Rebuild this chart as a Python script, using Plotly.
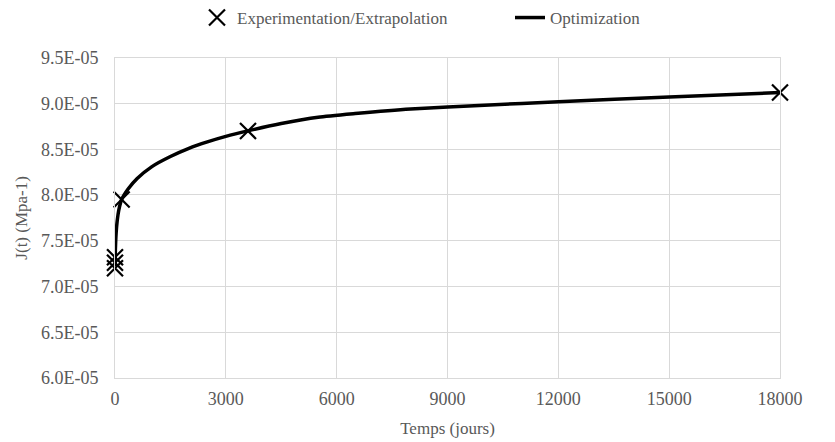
import plotly.graph_objects as go

# Experimental / extrapolated points
exp_t = [0, 0, 0, 180, 3600, 18000]
exp_j = [7.20e-05, 7.26e-05, 7.32e-05, 7.95e-05, 8.70e-05, 9.12e-05]

# Optimization curve
opt_t = [0, 10, 30, 60, 100, 180, 365, 600, 1000, 1500, 2000, 2500, 3000, 3600,
         4500, 5500, 6500, 8000, 10000, 12000, 15000, 18000]
opt_j = [7.22e-05, 7.40e-05, 7.58e-05, 7.72e-05, 7.83e-05, 7.95e-05, 8.07e-05, 8.18e-05,
         8.31e-05, 8.42e-05, 8.51e-05, 8.58e-05, 8.64e-05, 8.70e-05, 8.78e-05, 8.85e-05,
         8.89e-05, 8.94e-05, 8.98e-05, 9.02e-05, 9.07e-05, 9.12e-05]

x_ticks = [0, 3000, 6000, 9000, 12000, 15000, 18000]
y_ticks = [6.0e-05, 6.5e-05, 7.0e-05, 7.5e-05, 8.0e-05, 8.5e-05, 9.0e-05, 9.5e-05]
y_labels = ["6.0E-05", "6.5E-05", "7.0E-05", "7.5E-05", "8.0E-05", "8.5E-05", "9.0E-05", "9.5E-05"]

font_family = "Liberation Serif"
grey = "#595959"
fs = 18

fig = go.Figure()
fig.add_trace(go.Scatter(
    x=exp_t, y=exp_j, mode="markers", name="Experimentation/Extrapolation",
    marker=dict(symbol="x-thin", size=16, color="black", line=dict(width=2.2, color="black")),
    cliponaxis=False, legend="legend",
))
fig.add_trace(go.Scatter(
    x=opt_t, y=opt_j, mode="lines", name="Optimization",
    line=dict(color="black", width=3.5, shape="spline", smoothing=0.6),
    cliponaxis=False, legend="legend2",
))

leg_common = dict(orientation="h", yanchor="middle", y=1 - 18 / 442, yref="container",
                  xref="container", xanchor="left", font=dict(size=17, color=grey),
                  itemwidth=30, bgcolor="rgba(0,0,0,0)")

fig.update_layout(
    width=835, height=442,
    margin=dict(l=115, r=55, t=56, b=64),
    paper_bgcolor="white", plot_bgcolor="white",
    font=dict(family=font_family, size=fs, color=grey),
    legend=dict(x=197 / 835, **leg_common),
    legend2=dict(x=510 / 835, **leg_common),
    showlegend=True,
)
fig.update_xaxes(
    range=[0, 18000], tickvals=x_ticks, ticktext=[str(v) for v in x_ticks],
    showgrid=True, gridcolor="#d9d9d9", gridwidth=1, zeroline=False,
    showline=True, linecolor="#d9d9d9", mirror=True, automargin=False,
    title=dict(text="Temps (jours)", font=dict(size=17, color=grey), standoff=14),
    ticks="", tickfont=dict(size=fs, color=grey), ticklabelstandoff=4,
)
fig.update_yaxes(
    range=[6.0e-05, 9.5e-05], tickvals=y_ticks, ticktext=y_labels,
    showgrid=True, gridcolor="#d9d9d9", gridwidth=1, zeroline=False,
    showline=True, linecolor="#d9d9d9", mirror=True,
    title=dict(text="J(t) (Mpa-1)", font=dict(size=17, color=grey), standoff=8),
    ticks="", tickfont=dict(size=fs, color=grey), ticklabelstandoff=12,
)

fig.write_html("out.html")
